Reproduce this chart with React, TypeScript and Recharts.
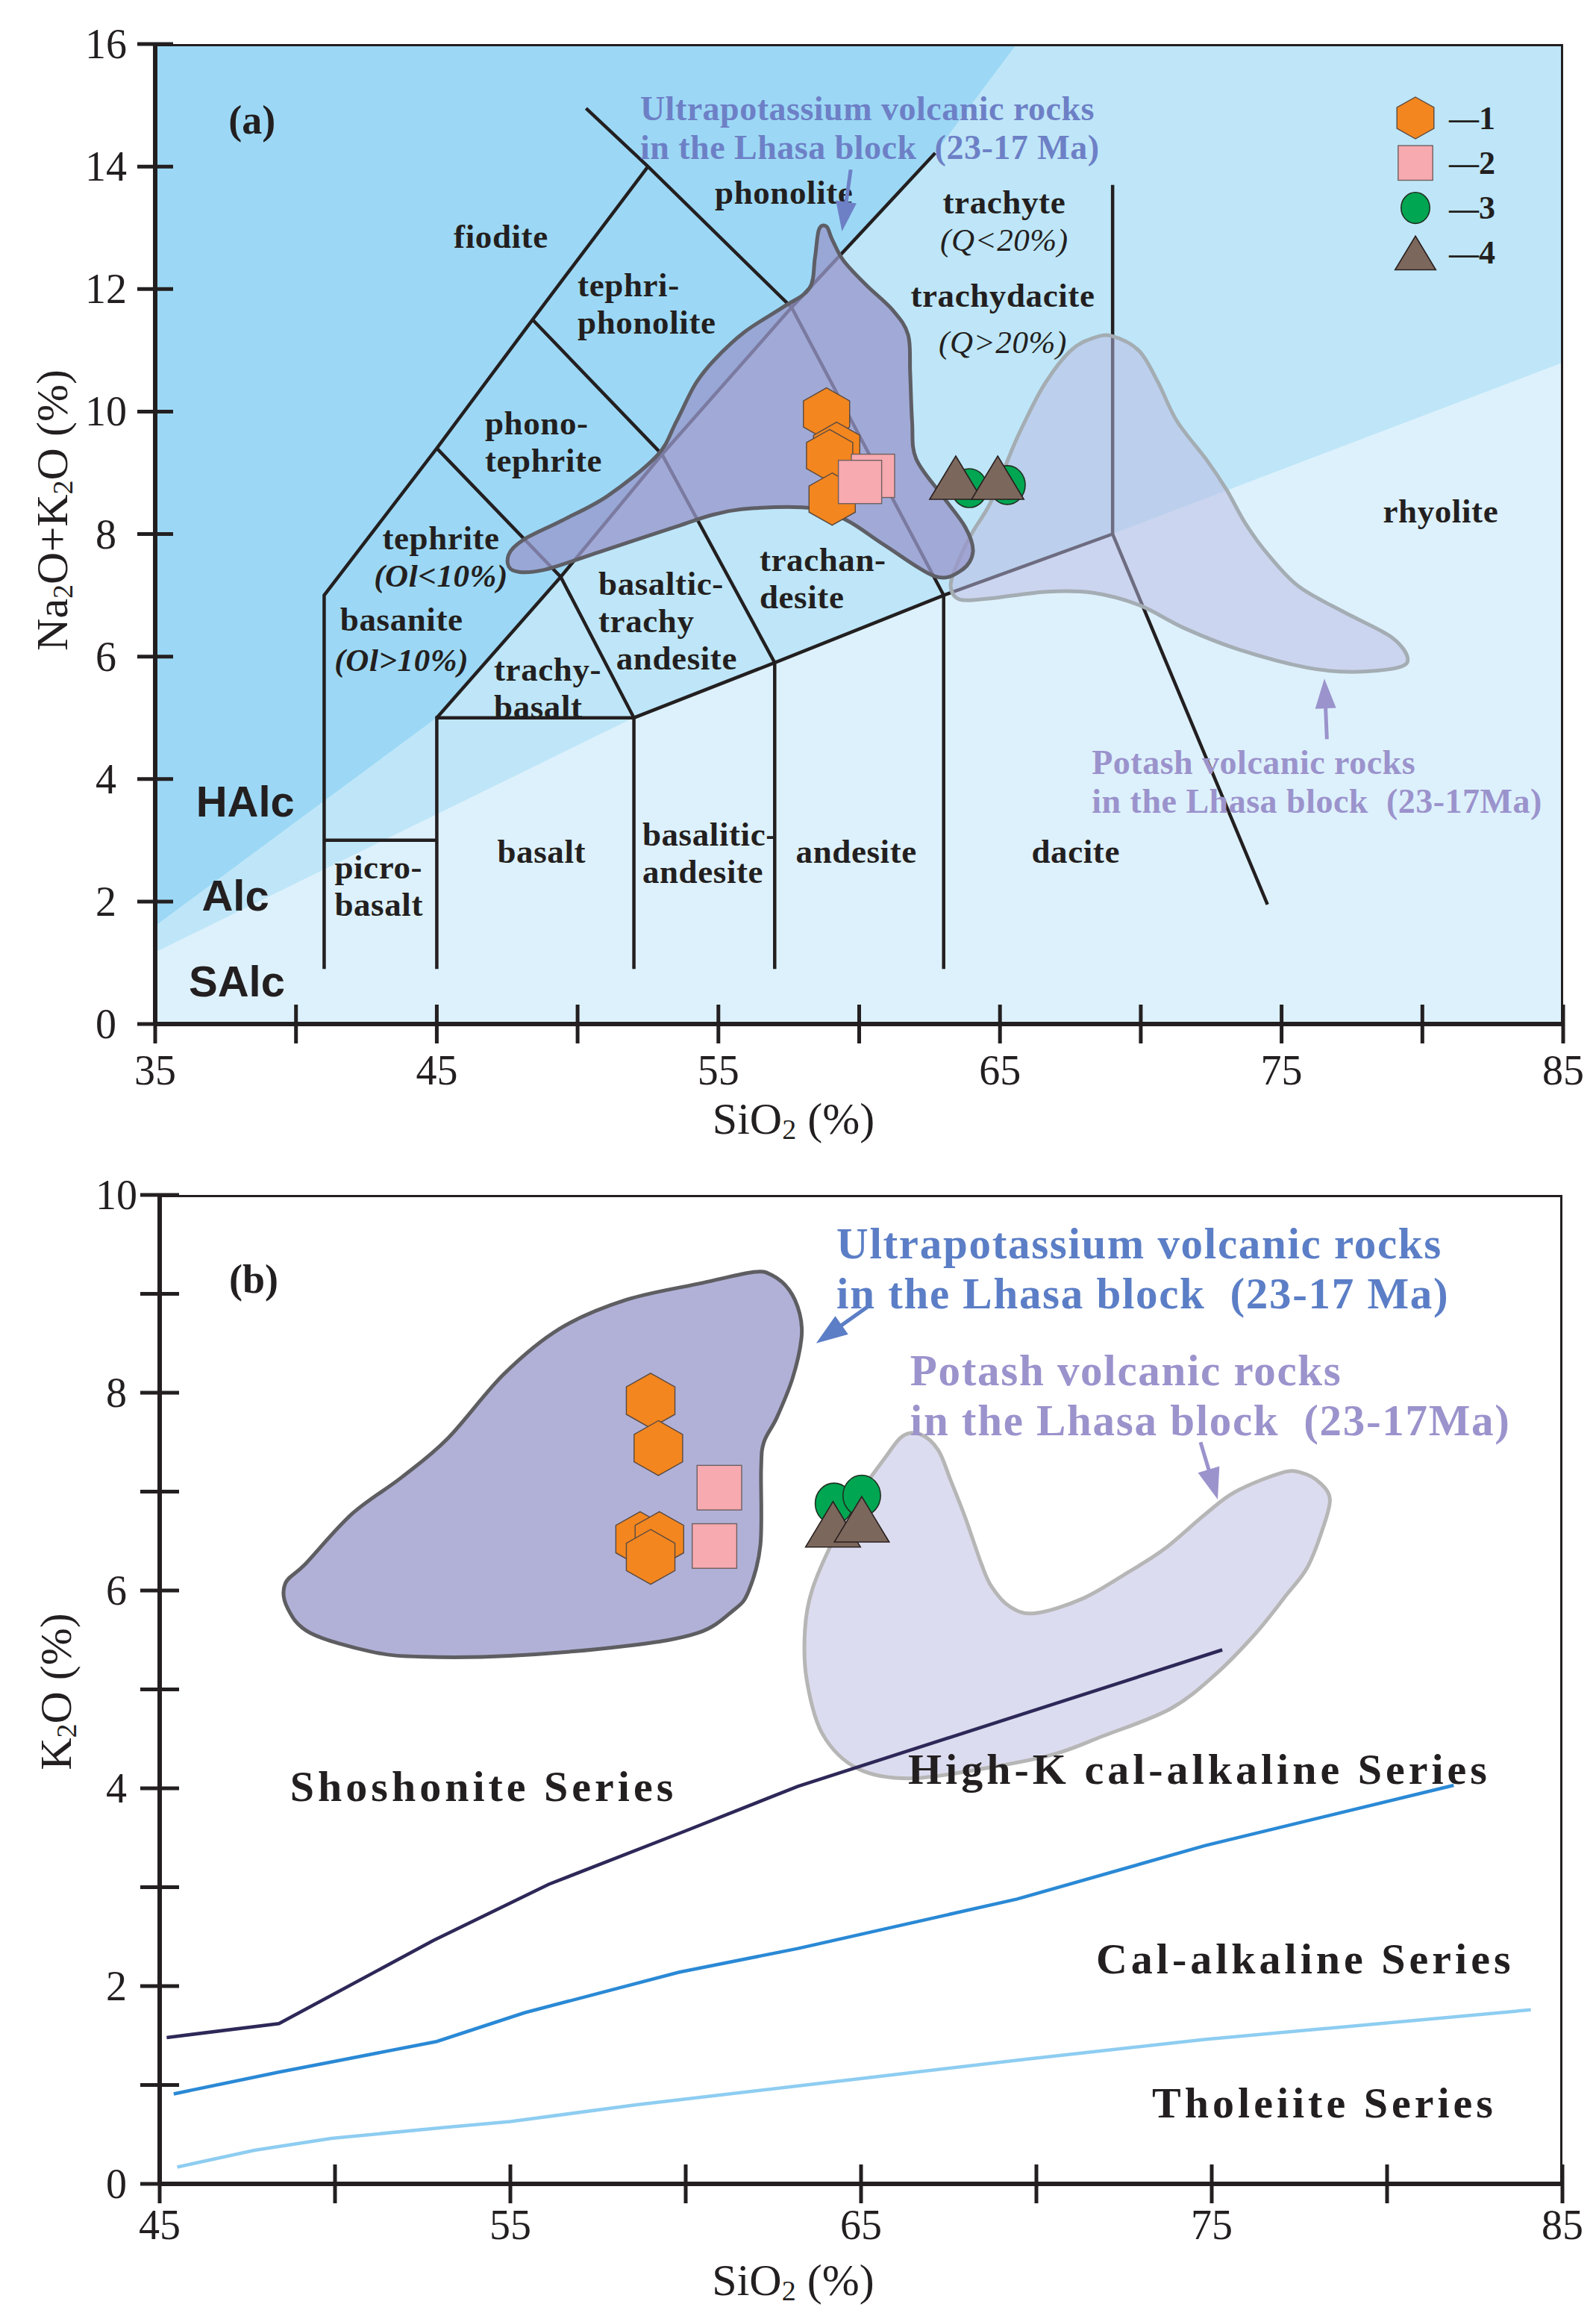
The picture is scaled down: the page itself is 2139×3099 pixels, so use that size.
import React from 'react';
import { ScatterChart, Scatter, XAxis, YAxis, Legend, Label } from 'recharts';

const INK = '#231f20';
const SERIF = '"Liberation Serif", "Times New Roman", Times, serif';
const SANS = '"Liberation Sans", Arial, Helvetica, sans-serif';

type Pt = { x: number; y: number };
type Row = [number, number, string];

// ---------- panel (a): TAS diagram ----------
const TAS_X_TICKS = [35, 40, 45, 50, 55, 60, 65, 70, 75, 80, 85];
const TAS_X_LABELS = [35, 45, 55, 65, 75, 85];
const TAS_Y_TICKS = [0, 2, 4, 6, 8, 10, 12, 14, 16];

// alkaline / subalkaline background boundaries
const ALK_UPPER = [[35, 1.6], [45, 5], [49.4, 7.3], [53, 9.3], [57.6, 11.7], [62.7, 14.22], [65.6, 16]];
const ALK_LOWER = [[35, 1.17], [52, 5], [57, 5.9], [63, 7], [69, 8], [85, 10.8]];

const TAS_LINES = [
  [[41, 0.9], [41, 7], [45, 9.4], [48.4, 11.5], [52.5, 14]],
  [[50.3, 14.95], [52.5, 14], [57.6, 11.7], [63, 7]],
  [[45, 5], [49.4, 7.3], [53, 9.3], [57.6, 11.7], [62.7, 14.22]],
  [[45, 9.4], [49.4, 7.3], [52, 5]],
  [[48.4, 11.5], [53, 9.3], [57, 5.9]],
  [[41, 3], [45, 3]],
  [[45, 0.9], [45, 5], [52, 5], [57, 5.9], [63, 7], [69, 8], [74.5, 1.95]],
  [[52, 0.9], [52, 5]],
  [[57, 0.9], [57, 5.9]],
  [[63, 0.9], [63, 7]],
  [[69, 8], [69, 13.7]],
];

const UK_FIELD_A = [
  [58.84, 13.02], [59.04, 12.81], [59.45, 12.46], [60.26, 12.06], [61.2, 11.65], [61.74, 11.25],
  [61.81, 10.64], [61.88, 9.83], [62.02, 9.23], [62.96, 8.62], [63.77, 8.11], [64.04, 7.71],
  [63.64, 7.41], [62.69, 7.31], [60.93, 7.81], [59.58, 8.22], [58.37, 8.42], [56.2, 8.42],
  [54.85, 8.32], [53.5, 8.12], [50.79, 7.71], [48.77, 7.41], [47.69, 7.41], [47.55, 7.66],
  [48.09, 7.91], [49.44, 8.22], [51.06, 8.62], [52.82, 9.28], [53.5, 9.83], [54.17, 10.44],
  [54.85, 10.84], [55.93, 11.3], [57.28, 11.7], [58.23, 12.01], [58.43, 12.51], [58.57, 12.97],
];

const POTASH_FIELD_A = [
  [68.99, 11.23], [69.94, 10.99], [70.61, 10.48], [71.29, 9.84], [72.37, 9.19], [73.05, 8.72],
  [73.72, 8.17], [74.53, 7.66], [75.62, 7.14], [77.24, 6.72], [78.86, 6.33], [79.47, 5.99],
  [79.13, 5.82], [77.51, 5.75], [75.89, 5.82], [73.45, 6.12], [71.56, 6.46], [69.94, 6.84],
  [68.31, 7.04], [66.69, 7.06], [64.66, 6.95], [63.58, 6.93], [63.25, 7.14], [63.45, 7.48],
  [63.99, 8.0], [64.66, 8.51], [65.34, 9.28], [65.75, 9.71], [66.56, 10.43], [67.5, 10.99],
  [68.31, 11.2],
];

const HEX_A = [[58.84, 9.96], [59.2, 9.4], [58.95, 9.28], [59.04, 8.57]];
const SQUARE_A = [[60.49, 8.95], [60.03, 8.85]];
const CIRCLE_A = [[63.91, 8.75], [65.26, 8.8]];
const TRIANGLE_A = [[63.43, 8.92], [64.92, 8.92]];

// rock names (y = middle of the block); '|' breaks a line, '*' = bold italic, '~' = italic
const TAS_NAMES_MID: Row[] = [
  [47.28, 12.86, 'fiodite'],
  [57.33, 13.58, 'phonolite'],
  [45.15, 7.63, 'tephrite|*(Ol<10%)'],
  [43.75, 6.275, 'basanite|*(Ol>10%)'],
  [65.15, 13.115, 'trachyte|~(Q<20%)'],
  [65.1, 11.515, 'trachydacite|~(Q>20%)'],
  [80.65, 8.37, 'rhyolite'],
  [48.72, 2.81, 'basalt'],
  [59.9, 2.81, 'andesite'],
  [67.69, 2.81, 'dacite'],
];
const TAS_NAMES_LEFT: Row[] = [
  [50.0, 11.755, 'tephri-|phonolite'],
  [46.71, 9.5, 'phono-|tephrite'],
  [47.03, 5.48, 'trachy-|basalt'],
  [50.74, 6.585, 'basaltic-|trachy|  andesite'],
  [56.46, 7.27, 'trachan-|desite'],
  [41.37, 2.26, 'picro-|basalt'],
  [52.3, 2.79, 'basalitic-|andesite'],
];
const ALK_NAMES: Row[] = [[38.2, 3.64, 'HAlc'], [37.85, 2.11, 'Alc'], [37.9, 0.71, 'SAlc']];
const PANEL_A: Row[] = [[38.44, 14.76, '(a)']];
const UK_NOTE_A: Row[] = [[52.22, 14.635, 'Ultrapotassium volcanic rocks|in the Lhasa block  (23-17 Ma)']];
const POTASH_NOTE_A: Row[] = [[68.26, 3.955, 'Potash volcanic rocks|in the Lhasa block  (23-17Ma)']];
const UK_ARROW_A = [[59.7, 13.95], [59.39, 12.94]];
const POTASH_ARROW_A = [[76.61, 4.65], [76.52, 5.64]];

const LEGEND_KEYS = ['1', '2', '3', '4'];

// ---------- panel (b): SiO2 - K2O ----------
const K_X_TICKS = [45, 50, 55, 60, 65, 70, 75, 80, 85];
const K_X_LABELS = [45, 55, 65, 75, 85];
const K_Y_TICKS = [0, 1, 2, 3, 4, 5, 6, 7, 8, 9, 10];
const K_Y_LABELS = [0, 2, 4, 6, 8, 10];

const SHO_HIGHK = [[45.2, 1.48], [48.4, 1.62], [52.8, 2.46], [56.1, 3.03], [60.0, 3.57], [63.2, 4.02], [75.3, 5.4]];
const HIGHK_CA = [[45.4, 0.91], [48.4, 1.13], [50.0, 1.24], [52.9, 1.44], [55.4, 1.73], [59.8, 2.14], [63.2, 2.38], [69.45, 2.88], [74.8, 3.42], [81.9, 4.03]];
const CA_THOL = [[45.5, 0.17], [47.7, 0.34], [49.9, 0.46], [53.1, 0.57], [55.0, 0.63], [58.6, 0.8], [63.2, 0.99], [69.7, 1.26], [74.8, 1.46], [84.1, 1.76]];

const UK_FIELD_B = [
  [48.58, 6.07], [49.16, 6.27], [50.47, 6.77], [51.92, 7.15], [53.22, 7.54], [54.82, 8.19],
  [56.42, 8.65], [58.31, 8.94], [60.48, 9.11], [61.94, 9.22], [62.45, 9.19], [62.95, 9.04],
  [63.25, 8.8], [63.3, 8.55], [63.05, 8.15], [62.6, 7.75], [62.23, 7.5], [62.15, 7.23],
  [62.13, 6.46], [61.79, 5.99], [61.36, 5.8], [60.34, 5.57], [58.31, 5.44], [54.97, 5.34],
  [52.5, 5.33], [51.05, 5.38], [49.3, 5.57], [48.65, 5.82],
];

const POTASH_FIELD_B = [
  [66.18, 7.56], [66.69, 7.58], [67.2, 7.42], [67.56, 7.11], [67.98, 6.73], [68.43, 6.27],
  [68.72, 6.04], [69.23, 5.84], [69.96, 5.77], [71.33, 5.92], [72.64, 6.19], [73.65, 6.42],
  [74.81, 6.77], [75.68, 7.0], [76.99, 7.19], [77.57, 7.19], [78.08, 7.09], [78.37, 6.92],
  [78.15, 6.61], [77.72, 6.23], [77.14, 5.96], [76.26, 5.57], [75.1, 5.15], [73.8, 4.8],
  [71.91, 4.53], [70.46, 4.34], [68.5, 4.2], [66.4, 4.1], [64.9, 4.2], [63.9, 4.55],
  [63.45, 5.1], [63.4, 5.6], [63.6, 6.0], [64.2, 6.5], [65.0, 7.0], [65.7, 7.35],
];

const HEX_B = [[59.0, 7.92], [59.22, 7.44], [58.7, 6.52], [59.25, 6.52], [59.0, 6.34]];
const SQUARE_B = [[60.96, 7.04], [60.82, 6.45]];
const CIRCLE_B = [[64.23, 6.88], [65.02, 6.96]];
const TRIANGLE_B = [[64.2, 6.67], [65.02, 6.72]];

const SERIES_NAMES: Row[] = [
  [48.72, 4.02, 'Shoshonite Series'],
  [66.34, 4.2, 'High-K cal-alkaline Series'],
  [71.7, 2.28, 'Cal-alkaline Series'],
  [73.3, 0.82, 'Tholeiite Series'],
];
const PANEL_B: Row[] = [[47.68, 9.15, '(b)']];
const UK_NOTE_B: Row[] = [[64.3, 9.26, 'Ultrapotassium volcanic rocks|in the Lhasa block  (23-17 Ma)']];
const POTASH_NOTE_B: Row[] = [[66.4, 7.97, 'Potash volcanic rocks|in the Lhasa block  (23-17Ma)']];
const UK_ARROW_B = [[65.23, 8.88], [63.72, 8.5]];
const POTASH_ARROW_B = [[74.68, 7.5], [75.17, 6.92]];

// line spacing (px) for labels whose lines sit further apart
const LINE_GAP: Record<string, number> = { trachydacite: 62, basanite: 54 };

// ---------- helpers ----------
const toPts = (a: number[][]): Pt[] => a.map(([x, y]) => ({ x, y }));
const toTexts = (rows: Row[]) => rows.map(([x, y, t]) => ({ x, y, t }));

const SALC_AREA = toPts([[35, 0], [85, 0], ...ALK_LOWER.slice().reverse()]);
const ALC_AREA = toPts([...ALK_LOWER, [85, 16], ...ALK_UPPER.slice().reverse()]);
const HALC_AREA = toPts([...ALK_UPPER, [35, 16]]);

function smoothClosed(p: Pt[]) {
  const n = p.length;
  let d = `M${p[0].x},${p[0].y}`;
  for (let i = 0; i < n; i++) {
    const p0 = p[(i - 1 + n) % n], p1 = p[i], p2 = p[(i + 1) % n], p3 = p[(i + 2) % n];
    const c1x = p1.x + (p2.x - p0.x) / 6, c1y = p1.y + (p2.y - p0.y) / 6;
    const c2x = p2.x - (p3.x - p1.x) / 6, c2y = p2.y - (p3.y - p1.y) / 6;
    d += `C${c1x},${c1y} ${c2x},${c2y} ${p2.x},${p2.y}`;
  }
  return d + 'Z';
}

const NoDot = () => <g />;

const fillArea = (fill: string, opacity = 1, stroke = 'none', width = 0, smooth = false) => (p: any) => {
  const q: Pt[] = p.points || [];
  if (!q.length) return <g />;
  const d = smooth ? smoothClosed(q) : q.map((v, i) => `${i ? 'L' : 'M'}${v.x},${v.y}`).join(' ') + 'Z';
  return <path d={d} fill={fill} fillOpacity={opacity} stroke={stroke} strokeWidth={width} strokeLinejoin="round" />;
};

const strokeLine = (stroke: string, width: number) => (p: any) => {
  const q: Pt[] = p.points || [];
  const d = q.map((v, i) => `${i ? 'L' : 'M'}${v.x},${v.y}`).join(' ');
  return <path d={d} fill="none" stroke={stroke} strokeWidth={width} strokeLinejoin="miter" />;
};

const arrowLine = (color: string, width: number, len: number, half: number) => (p: any) => {
  const q: Pt[] = p.points || [];
  if (q.length < 2) return <g />;
  const [a, b] = q;
  const ang = Math.atan2(b.y - a.y, b.x - a.x);
  const c = Math.cos(ang), s = Math.sin(ang);
  const bx = b.x - len * c, by = b.y - len * s;
  const pts = `${b.x},${b.y} ${bx - half * s},${by + half * c} ${bx + half * s},${by - half * c}`;
  return (
    <g>
      <line x1={a.x} y1={a.y} x2={bx + 2 * c} y2={by + 2 * s} stroke={color} strokeWidth={width} />
      <polygon points={pts} fill={color} />
    </g>
  );
};

// one <text> per label, lines centred on the point as tspans
const textMark = (style: any, lh = 50, noteSize = 43) => (p: any) => {
  const lines = String((p.payload && p.payload.t) || '').split('|');
  const gap = LINE_GAP[lines[0]] || lh;
  const y0 = p.cy - ((lines.length - 1) * gap) / 2;
  return (
    <text x={p.cx} y={y0} dominantBaseline="central" style={{ whiteSpace: 'pre' }} {...style}>
      {lines.map((ln, i) => {
        const italic = ln[0] === '*' || ln[0] === '~';
        return (
          <tspan
            key={i}
            x={p.cx}
            dy={i === 0 ? 0 : gap}
            fontStyle={italic ? 'italic' : undefined}
            fontWeight={ln[0] === '~' ? 'normal' : undefined}
            fontSize={italic ? noteSize : undefined}
          >
            {italic ? ln.slice(1) : ln}
          </tspan>
        );
      })}
    </text>
  );
};

function Glyph({ kind, cx, cy, s }: { kind: string; cx: number; cy: number; s: number }) {
  if (kind === 'hex') {
    const w = 31 * s, h = 35 * s;
    const pts = [[cx, cy - h], [cx + w, cy - h / 2], [cx + w, cy + h / 2], [cx, cy + h], [cx - w, cy + h / 2], [cx - w, cy - h / 2]]
      .map((v) => v.join(',')).join(' ');
    return <polygon points={pts} fill="#f3861f" stroke="#5a4a40" strokeWidth={1.4} />;
  }
  if (kind === 'square') {
    const a = 29 * s;
    return <rect x={cx - a} y={cy - a} width={2 * a} height={2 * a} fill="#f7aab0" stroke="#6d6060" strokeWidth={1.4} />;
  }
  if (kind === 'circle') {
    return <ellipse cx={cx} cy={cy} rx={24 * s} ry={26 * s} fill="#00a652" stroke="#203020" strokeWidth={1.6} />;
  }
  const w = 35 * s, h = 29 * s;
  return <polygon points={`${cx},${cy - h} ${cx + w},${cy + h} ${cx - w},${cy + h}`} fill="#7c675c" stroke="#2a2020" strokeWidth={1.6} />;
}

const glyphShape = (kind: string, s: number) => (p: any) => <Glyph kind={kind} cx={p.cx} cy={p.cy} s={s} />;

const LEGEND_KINDS = ['hex', 'square', 'circle', 'triangle'];

function MarkerLegend() {
  return (
    <svg width={200} height={250}>
      {LEGEND_KEYS.map((k, i) => (
        <g key={k}>
          <Glyph kind={LEGEND_KINDS[i]} cx={35} cy={36 + i * 60.3} s={i === 3 ? 0.78 : 0.8} />
          <text x={80} y={36 + i * 60.3} dominantBaseline="central" fontFamily={SERIF} fontWeight="bold" fontSize={44} fill={INK}>
            <tspan fontSize={40}>—</tspan>{k}
          </text>
        </g>
      ))}
    </svg>
  );
}

function CrossTickX(props: any) {
  const { x, y, payload, labels, gap, len } = props;
  const v = payload ? payload.value : null;
  return (
    <g>
      <line x1={x} x2={x} y1={y - len} y2={y + len} stroke={INK} strokeWidth={5} />
      {labels.includes(v) && (
        <text x={x} y={y + gap} textAnchor="middle" dominantBaseline="central" fontFamily={SERIF} fontSize={56} fill={INK}>
          {v}
        </text>
      )}
    </g>
  );
}

function CrossTickY(props: any) {
  const { x, y, payload, labels, gap, len } = props;
  const v = payload ? payload.value : null;
  return (
    <g>
      <line x1={x - len} x2={x + len} y1={y} y2={y} stroke={INK} strokeWidth={5} />
      {labels.includes(v) && (
        <text x={x - gap} y={y} textAnchor="middle" dominantBaseline="central" fontFamily={SERIF} fontSize={56} fill={INK}>
          {v}
        </text>
      )}
    </g>
  );
}

const sio2Title = (shiftX: number, dy: number) => (props: any) => {
  const vb = props.viewBox || { x: 0, y: 0, width: 0, height: 0 };
  const cx = vb.x + vb.width / 2 + shiftX;
  return (
    <text x={cx} y={vb.y + dy} textAnchor="middle" dominantBaseline="central" fontFamily={SERIF} fontSize={60} fill={INK}>
      SiO<tspan fontSize={38} dy={14}>2</tspan>
      <tspan dy={-14}> (%)</tspan>
    </text>
  );
};

const yTitle = (parts: string[], shiftX: number, shiftY: number) => (props: any) => {
  const vb = props.viewBox || { x: 0, y: 0, width: 0, height: 0 };
  const cx = vb.x + vb.width + shiftX;
  const cy = vb.y + vb.height / 2 + shiftY;
  return (
    <text x={cx} y={cy} transform={`rotate(-90 ${cx} ${cy})`} textAnchor="middle" dominantBaseline="central" fontFamily={SERIF} fontSize={60} fill={INK}>
      {parts.map((t, i) =>
        t === '2' ? (
          <tspan key={i} fontSize={38} dy={14}>2</tspan>
        ) : (
          <tspan key={i} dy={i > 0 ? -14 : 0}>{t}</tspan>
        )
      )}
    </text>
  );
};

const nameStyle = { fontFamily: SERIF, fontWeight: 'bold', fontSize: 45, fill: INK, letterSpacing: 0.6 };

function TasChart() {
  return (
    <ScatterChart width={2139} height={1560} margin={{ top: 59, right: 44, bottom: 68, left: 88 }}>
      <XAxis
        type="number" dataKey="x" domain={[35, 85]} ticks={TAS_X_TICKS} interval={0} allowDataOverflow
        height={120} tickSize={0} tickMargin={0} tickLine={false} axisLine={{ stroke: INK, strokeWidth: 6 }}
        tick={<CrossTickX labels={TAS_X_LABELS} gap={62} len={26} />}
      >
        <Label content={sio2Title(-88, 127)} />
      </XAxis>
      <YAxis
        type="number" dataKey="y" domain={[0, 16]} ticks={TAS_Y_TICKS} interval={0} allowDataOverflow
        width={120} tickSize={0} tickMargin={0} tickLine={false} axisLine={{ stroke: INK, strokeWidth: 6 }}
        tick={<CrossTickY labels={TAS_Y_TICKS} gap={66} len={24} />}
      >
        <Label content={yTitle(['Na', '2', 'O+K', '2', 'O (%)'], -138, -32)} />
      </YAxis>
      <Legend
        layout="vertical" align="center" verticalAlign="middle"
        wrapperStyle={{ left: 1862, top: 122, width: 200, height: 250 }}
        content={() => <MarkerLegend />}
      />

      <Scatter data={SALC_AREA} shape={NoDot} line={fillArea('#ddf1fc')} legendType="none" isAnimationActive={false} />
      <Scatter data={ALC_AREA} shape={NoDot} line={fillArea('#bee6f8')} legendType="none" isAnimationActive={false} />
      <Scatter data={HALC_AREA} shape={NoDot} line={fillArea('#9cd8f5')} legendType="none" isAnimationActive={false} />

      {TAS_LINES.map((l, i) => (
        <Scatter key={`tas-${i}`} data={toPts(l)} shape={NoDot} line={strokeLine(INK, 4.5)} legendType="none" isAnimationActive={false} />
      ))}

      <Scatter data={toPts(POTASH_FIELD_A)} shape={NoDot} line={fillArea('#b9b9e1', 0.5, '#a4adb3', 5, true)} legendType="none" isAnimationActive={false} />
      <Scatter data={toPts(UK_FIELD_A)} shape={NoDot} line={fillArea('#9797cb', 0.76, '#5e5e66', 5, true)} legendType="none" isAnimationActive={false} />

      <Scatter data={toTexts(TAS_NAMES_MID)} shape={textMark({ ...nameStyle, textAnchor: 'middle' })} legendType="none" isAnimationActive={false} />
      <Scatter data={toTexts(TAS_NAMES_LEFT)} shape={textMark({ ...nameStyle, textAnchor: 'start' })} legendType="none" isAnimationActive={false} />
      <Scatter data={toTexts(ALK_NAMES)} shape={textMark({ fontFamily: SANS, fontWeight: 'bold', fontSize: 58, fill: INK, textAnchor: 'middle' })} legendType="none" isAnimationActive={false} />
      <Scatter data={toTexts(PANEL_A)} shape={textMark({ fontFamily: SERIF, fontWeight: 'bold', fontSize: 54, fill: INK, textAnchor: 'middle' })} legendType="none" isAnimationActive={false} />
      <Scatter data={toTexts(UK_NOTE_A)} shape={textMark({ fontFamily: SERIF, fontWeight: 'bold', fontSize: 46, fill: '#6d80c6', textAnchor: 'start', letterSpacing: 0.5 }, 52)} legendType="none" isAnimationActive={false} />
      <Scatter data={toTexts(POTASH_NOTE_A)} shape={textMark({ fontFamily: SERIF, fontWeight: 'bold', fontSize: 46, fill: '#9b93cc', textAnchor: 'start', letterSpacing: 0.5 }, 52)} legendType="none" isAnimationActive={false} />
      <Scatter data={toPts(UK_ARROW_A)} shape={NoDot} line={arrowLine('#6d80c6', 5, 40, 14)} legendType="none" isAnimationActive={false} />
      <Scatter data={toPts(POTASH_ARROW_A)} shape={NoDot} line={arrowLine('#9b93cc', 5, 40, 14)} legendType="none" isAnimationActive={false} />

      <Scatter data={toPts(HEX_A)} shape={glyphShape('hex', 1)} legendType="none" isAnimationActive={false} />
      <Scatter data={toPts(SQUARE_A)} shape={glyphShape('square', 1)} legendType="none" isAnimationActive={false} />
      <Scatter data={toPts(CIRCLE_A)} shape={glyphShape('circle', 1)} legendType="none" isAnimationActive={false} />
      <Scatter data={toPts(TRIANGLE_A)} shape={glyphShape('triangle', 1)} legendType="none" isAnimationActive={false} />

      <Scatter data={toPts([[35, 0], [85, 0], [85, 16], [35, 16], [35, 0]])} shape={NoDot} line={strokeLine(INK, 6)} legendType="none" isAnimationActive={false} />
    </ScatterChart>
  );
}

function K2OChart() {
  return (
    <ScatterChart width={2139} height={1539} margin={{ top: 41, right: 45, bottom: 53, left: 94 }}>
      <XAxis
        type="number" dataKey="x" domain={[45, 85]} ticks={K_X_TICKS} interval={0} allowDataOverflow
        height={120} tickSize={0} tickMargin={0} tickLine={false} axisLine={{ stroke: INK, strokeWidth: 6 }}
        tick={<CrossTickX labels={K_X_LABELS} gap={55} len={26} />}
      >
        <Label content={sio2Title(-91, 129)} />
      </XAxis>
      <YAxis
        type="number" dataKey="y" domain={[0, 10]} ticks={K_Y_TICKS} interval={0} allowDataOverflow
        width={120} tickSize={0} tickMargin={0} tickLine={false} axisLine={{ stroke: INK, strokeWidth: 6 }}
        tick={<CrossTickY labels={K_Y_LABELS} gap={58} len={26} />}
      >
        <Label content={yTitle(['K', '2', 'O (%)'], -139, 3)} />
      </YAxis>

      <Scatter data={toPts(POTASH_FIELD_B)} shape={NoDot} line={fillArea('#dcdcf0', 1, '#b6b6b6', 5, true)} legendType="none" isAnimationActive={false} />
      <Scatter data={toPts(UK_FIELD_B)} shape={NoDot} line={fillArea('#b1b1d8', 1, '#5e5e62', 5, true)} legendType="none" isAnimationActive={false} />

      <Scatter data={toPts(SHO_HIGHK)} shape={NoDot} line={strokeLine('#2d2858', 4.5)} legendType="none" isAnimationActive={false} />
      <Scatter data={toPts(HIGHK_CA)} shape={NoDot} line={strokeLine('#2a89d5', 4.5)} legendType="none" isAnimationActive={false} />
      <Scatter data={toPts(CA_THOL)} shape={NoDot} line={strokeLine('#8ecdf1', 4.5)} legendType="none" isAnimationActive={false} />

      <Scatter data={toTexts(SERIES_NAMES)} shape={textMark({ fontFamily: SERIF, fontWeight: 'bold', fontSize: 58, fill: INK, textAnchor: 'start', letterSpacing: 5 })} legendType="none" isAnimationActive={false} />
      <Scatter data={toTexts(PANEL_B)} shape={textMark({ fontFamily: SERIF, fontWeight: 'bold', fontSize: 54, fill: INK, textAnchor: 'middle' })} legendType="none" isAnimationActive={false} />
      <Scatter data={toTexts(UK_NOTE_B)} shape={textMark({ fontFamily: SERIF, fontWeight: 'bold', fontSize: 59, fill: '#5b7ec6', textAnchor: 'start', letterSpacing: 1.7 }, 67)} legendType="none" isAnimationActive={false} />
      <Scatter data={toTexts(POTASH_NOTE_B)} shape={textMark({ fontFamily: SERIF, fontWeight: 'bold', fontSize: 59, fill: '#9b93cc', textAnchor: 'start', letterSpacing: 1.7 }, 67)} legendType="none" isAnimationActive={false} />
      <Scatter data={toPts(UK_ARROW_B)} shape={NoDot} line={arrowLine('#5b7ec6', 5, 42, 15)} legendType="none" isAnimationActive={false} />
      <Scatter data={toPts(POTASH_ARROW_B)} shape={NoDot} line={arrowLine('#9b93cc', 5, 42, 15)} legendType="none" isAnimationActive={false} />

      <Scatter data={toPts(HEX_B)} shape={glyphShape('hex', 1.05)} legendType="none" isAnimationActive={false} />
      <Scatter data={toPts(SQUARE_B)} shape={glyphShape('square', 1.03)} legendType="none" isAnimationActive={false} />
      <Scatter data={toPts(CIRCLE_B)} shape={glyphShape('circle', 1.05)} legendType="none" isAnimationActive={false} />
      <Scatter data={toPts(TRIANGLE_B)} shape={glyphShape('triangle', 1.05)} legendType="none" isAnimationActive={false} />

      <Scatter data={toPts([[45, 0], [85, 0], [85, 10], [45, 10], [45, 0]])} shape={NoDot} line={strokeLine(INK, 6)} legendType="none" isAnimationActive={false} />
    </ScatterChart>
  );
}

export default function App() {
  return (
    <div style={{ width: 2139, height: 3099, position: 'relative', background: '#ffffff', overflow: 'hidden' }}>
      <style>{'body{margin:0}'}</style>
      <TasChart />
      <K2OChart />
    </div>
  );
}
